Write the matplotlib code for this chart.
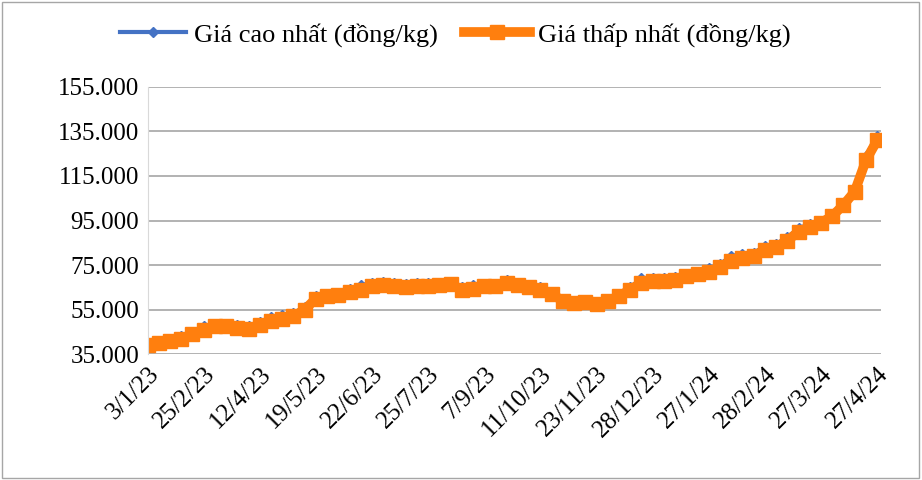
import matplotlib
matplotlib.use("Agg")
import matplotlib.pyplot as plt
import numpy as np

tick_labels = ["3/1/23","25/2/23","12/4/23","19/5/23","22/6/23","25/7/23","7/9/23",
               "11/10/23","23/11/23","28/12/23","27/1/24","28/2/24","27/3/24","27/4/24"]
low = [39,40,41,42,44,46,47.5,47.5,47,46.5,48,50,51,52,55,60,61,61.5,63,64,65.5,66,65.5,65,
       65.5,65.5,66,66.5,64,64.5,65.5,65.5,67,66,65,64,62,59,58,58.5,57.5,59,61,64,67,68,68,
       68.5,70,71,72,74,77,78,79,82,83,86,90,92,94,97,102,108,122,131]
high = [40,41,42,43,45,47.5,48.5,48.5,48,47.5,49.5,51.5,52.5,53.5,56,61,62,62.5,64.5,66,
        67,67.5,67,66.5,67,67,67,67.5,65,66,66.5,66.5,68.5,67,66,65,63,60,59,59.5,58.5,60,
        62,65,69,69,69,69.5,71,72,73.5,75.5,79,80,80.5,83.5,84.5,87.5,91.5,93.5,95,98,103,
        109,124,133]
low = np.array(low) * 1000
high = np.array(high) * 1000
x = np.arange(len(low))

plt.rcParams['font.family'] = ['Liberation Serif', 'DejaVu Serif']
fig = plt.figure(figsize=(9.22, 4.8), dpi=100)
ax = fig.add_axes([0.16, 0.262, 0.795, 0.557])
ax.plot(x, high, color='#4472C4', marker='D', markersize=5, lw=3, label='Giá cao nhất (đồng/kg)')
ax.plot(x, low, color='#FF7F0E', marker='s', markersize=10, lw=7, label='Giá thấp nhất (đồng/kg)')
ax.set_xlim(0, len(x) - 1 + 0.3)
ax.set_xticks(np.arange(0, len(x), 5))
ax.set_xticklabels(tick_labels, rotation=45, ha='right', rotation_mode='anchor', fontsize=18)
ax.set_ylim(35000, 155000)
yt = np.arange(35000, 155001, 20000)
ax.set_yticks(yt)
ax.set_yticklabels([f"{v:,}".replace(",", ".") for v in yt], fontsize=18)
ax.grid(axis='y', color='#A6A6A6', lw=1.2)
ax.set_axisbelow(True)
for s in ['top', 'right', 'bottom']:
    ax.spines[s].set_visible(False)
ax.spines['left'].set_color('#D9D9D9')
ax.tick_params(length=0, pad=6)
ax.legend(loc='lower center', bbox_to_anchor=(0.42, 1.06), ncol=2, frameon=False,
          fontsize=19, handlelength=2.5, columnspacing=1.0, handletextpad=0.3)
fig.add_artist(plt.Rectangle((0.002, 0.004), 0.995, 0.992, transform=fig.transFigure,
                             fill=False, edgecolor='#A6A6A6', lw=1))
fig.savefig("out.png", dpi=100)
